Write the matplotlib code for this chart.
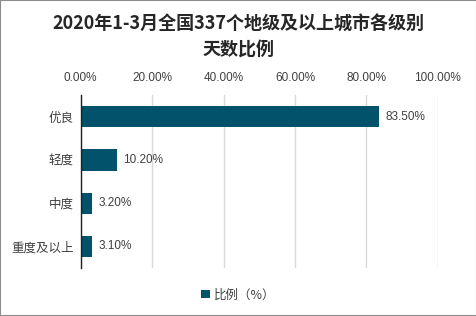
import matplotlib
matplotlib.use("Agg")
import matplotlib.pyplot as plt
from matplotlib.patches import Rectangle

plt.rcParams['font.family'] = ['Noto Sans CJK SC', 'DejaVu Sans']

categories = ["优良", "轻度", "中度", "重度及以上"]
values = [83.50, 10.20, 3.20, 3.10]
xticks = [0, 20, 40, 60, 80, 100]
xtick_labels = ["0.00%", "20.00%", "40.00%", "60.00%", "80.00%", "100.00%"]
title = "2020年1-3月全国337个地级及以上城市各级别\n天数比例"
legend_label = "比例（%）"

bar_color = "#02526B"
text_color = "#404040"

fig = plt.figure(figsize=(4.77, 3.16), dpi=100)
fig.patches.append(Rectangle((0, 0), 1, 1, transform=fig.transFigure,
                             fill=False, edgecolor="#8c8c8c", linewidth=1.5))
ax = fig.add_axes([0.169, 0.152, 0.749, 0.547])

ypos = list(range(len(categories)))
bars = ax.barh(ypos, values, height=0.49, color=bar_color, label=legend_label, zorder=3)
ax.set_ylim(len(categories) - 0.5, -0.5)
ax.set_xlim(0, 100)
ax.set_yticks(ypos)
ax.set_yticklabels(categories, fontsize=9, color=text_color,
                   family=['Noto Sans CJK SC', 'DejaVu Sans'])
ax.xaxis.tick_top()
ax.set_xticks(xticks)
ax.set_xticklabels(xtick_labels, fontsize=8.5, color=text_color, family=['Liberation Sans'])
ax.tick_params(axis='both', length=0, pad=5)
ax.tick_params(axis='x', pad=8)
ax.grid(axis='x', color="#d9d9d9", linewidth=1, zorder=0)
for s in ['top', 'right', 'bottom']:
    ax.spines[s].set_visible(False)
ax.spines['left'].set_color("#202020")
ax.spines['left'].set_linewidth(1)
ax.spines['left'].set_zorder(4)

for y, v in zip(ypos, values):
    ax.text(v + 1.8, y, f"{v:.2f}%", va='center', ha='left', fontsize=8.5,
            color=text_color, family=['Liberation Sans'])

fig.text(0.5, 0.884, title, ha='center', va='center', fontsize=13,
         fontweight='bold', color="#262626", linespacing=1.4)

leg = fig.legend(loc='center', bbox_to_anchor=(0.5, 0.067), frameon=False,
                 fontsize=9, handlelength=0.7, handleheight=0.7, handletextpad=0.3)
for t in leg.get_texts():
    t.set_color(text_color)

fig.savefig("out.png", dpi=100)
